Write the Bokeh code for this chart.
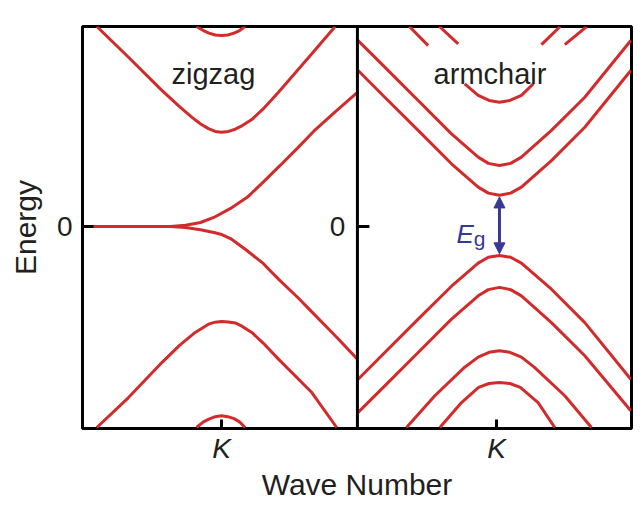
import numpy as np
from bokeh.plotting import figure
from bokeh.models import Label, Span, Arrow, NormalHead, FixedTicker, Range1d
from bokeh.embed import file_html
from bokeh.resources import INLINE

# ---------------- data (k relative to K, energy in arbitrary units) -------------
# zigzag ribbon
zz_c2_k = [-0.18, -0.13, -0.09, -0.045, 0.0, 0.045, 0.09, 0.13, 0.17]
zz_c2_e = [0.995, 0.975, 0.962, 0.953, 0.950, 0.953, 0.962, 0.975, 0.995]
zz_c1_k = [-0.897, -0.669, -0.429, -0.30, -0.214, -0.15, -0.094, -0.045, 0.0,
           0.05, 0.099, 0.15, 0.218, 0.30, 0.410, 0.650, 0.818]
zz_c1_e = [0.995, 0.842, 0.677, 0.595, 0.544, 0.510, 0.487, 0.473, 0.469,
           0.473, 0.484, 0.502, 0.532, 0.585, 0.668, 0.859, 0.995]
zz_edge_up_k = [-1.0, -0.367, -0.259, -0.151, -0.055, 0.065, 0.185, 0.302,
                0.424, 0.547, 0.664, 0.820, 0.978]
zz_edge_up_e = [0.0, 0.0, 0.006, 0.020, 0.045, 0.090, 0.145, 0.222,
                0.305, 0.390, 0.474, 0.572, 0.667]
zz_edge_dn_k = [-0.367, -0.259, -0.151, -0.055, 0.002, 0.065, 0.171, 0.302,
                0.41, 0.547, 0.65, 0.820, 0.978]
zz_edge_dn_e = [0.0, -0.005, -0.016, -0.030, -0.040, -0.060, -0.113, -0.185,
                -0.262, -0.352, -0.425, -0.545, -0.660]
zz_v1_k = [-0.897, -0.669, -0.429, -0.30, -0.189, -0.094, -0.045, 0.0, 0.05,
           0.099, 0.15, 0.218, 0.30, 0.410, 0.650, 0.829]
zz_v1_e = [-1.0, -0.851, -0.677, -0.590, -0.527, -0.486, -0.476, -0.473, -0.475,
           -0.480, -0.497, -0.527, -0.580, -0.660, -0.826, -1.0]
zz_v2_k = [-0.18, -0.13, -0.09, -0.045, 0.0, 0.045, 0.09, 0.13, 0.17]
zz_v2_e = [-1.0, -0.972, -0.958, -0.946, -0.942, -0.946, -0.956, -0.972, -1.0]

# armchair ribbon
arm_k = [-1.017, -0.825, -0.585, -0.345, -0.153, -0.08, 0.0, 0.08, 0.158,
         0.374, 0.614, 0.945]
arm_c1_e = [0.776, 0.643, 0.478, 0.312, 0.196, 0.166, 0.155, 0.166, 0.196,
            0.328, 0.494, 0.776]
arm_c2_e = [0.925, 0.793, 0.627, 0.461, 0.345, 0.314, 0.303, 0.314, 0.345,
            0.478, 0.643, 0.925]
arm_c3_arc_k = [-0.25, -0.153, -0.075, 0.0, 0.075, 0.158, 0.244]
arm_c3_arc_e = [0.710, 0.652, 0.627, 0.618, 0.627, 0.652, 0.710]
arm_c3_l_k = [-0.648, -0.513]
arm_c3_l_e = [0.995, 0.900]
arm_c3_r_k = [0.470, 0.628]
arm_c3_r_e = [0.905, 0.995]
arm_c4_l_k = [-0.432, -0.297]
arm_c4_l_e = [0.995, 0.909]
arm_c4_r_k = [0.302, 0.437]
arm_c4_r_e = [0.905, 0.995]
arm_v1_e = [-0.760, -0.627, -0.461, -0.297, -0.182, -0.153, -0.144, -0.153,
            -0.182, -0.312, -0.478, -0.760]
arm_v2_e = [-0.925, -0.793, -0.627, -0.461, -0.345, -0.314, -0.303, -0.314,
            -0.345, -0.478, -0.643, -0.917]
arm_v3_k = [-0.669, -0.465, -0.25, -0.153, -0.075, 0.0, 0.075, 0.158, 0.25,
            0.470, 0.662]
arm_v3_e = [-1.0, -0.842, -0.700, -0.650, -0.626, -0.618, -0.626, -0.650,
            -0.700, -0.842, -1.0]
arm_v4_k = [-0.429, -0.273, -0.15, -0.075, 0.0, 0.075, 0.15, 0.278, 0.398]
arm_v4_e = [-1.0, -0.876, -0.800, -0.781, -0.776, -0.781, -0.800, -0.876, -1.0]

tick_labels = ["K", "K"]
zero_label = "0"

# ---------------- layout / style ----------------
LEFT_K = 0.0
RIGHT_K = 2.0
RIGHT_K_TICK = 1.98
DIVIDER = 0.978
RED = "#d22b2b"
BLUE = "#363a96"
TXT = "#231f20"
FONT = "Liberation Sans"
LW = 3

p = figure(width=634, height=508,
           x_range=Range1d(-1.0, 2.95), y_range=Range1d(-1.005, 0.995),
           output_backend="svg", toolbar_location=None,
           min_border_left=82, min_border_right=3,
           min_border_top=26, min_border_bottom=80)
p.grid.visible = False
p.outline_line_color = "black"
p.outline_line_width = 3
p.background_fill_color = "white"
p.border_fill_color = "white"

# y axis
p.yaxis.ticker = FixedTicker(ticks=[0])
p.yaxis.minor_tick_line_color = None
p.yaxis.major_tick_in = 11
p.yaxis.major_tick_out = 0
p.yaxis.major_tick_line_width = 3
p.yaxis.major_tick_line_color = "black"
p.yaxis.axis_line_color = None
p.yaxis.major_label_standoff = 10
p.yaxis.major_label_text_font_size = "28px"
p.yaxis.major_label_text_font = FONT
p.yaxis.major_label_text_color = TXT
p.yaxis.axis_label = "Energy"
p.yaxis.axis_label_text_font = FONT
p.yaxis.axis_label_text_font_size = "30px"
p.yaxis.axis_label_text_font_style = "normal"
p.yaxis.axis_label_text_color = TXT
p.yaxis.axis_label_standoff = 12

# x axis
p.xaxis.ticker = FixedTicker(ticks=[LEFT_K, RIGHT_K_TICK])
p.xaxis.major_label_overrides = {LEFT_K: tick_labels[0], RIGHT_K_TICK: tick_labels[1]}
p.xaxis.minor_tick_line_color = None
p.xaxis.major_tick_in = 9
p.xaxis.major_tick_out = 0
p.xaxis.major_tick_line_width = 3
p.xaxis.major_tick_line_color = "black"
p.xaxis.axis_line_color = None
p.xaxis.major_label_standoff = 4
p.xaxis.major_label_text_font_size = "28px"
p.xaxis.major_label_text_font = FONT
p.xaxis.major_label_text_font_style = "italic"
p.xaxis.major_label_text_color = TXT
p.xaxis.axis_label = "Wave Number"
p.xaxis.axis_label_text_font = FONT
p.xaxis.axis_label_text_font_size = "30px"
p.xaxis.axis_label_text_font_style = "normal"
p.xaxis.axis_label_text_color = TXT
p.xaxis.axis_label_standoff = 1

# panel divider
p.add_layout(Span(location=DIVIDER, dimension="height", line_color="black", line_width=3))

# zigzag curves
for ks, es in [(zz_c2_k, zz_c2_e), (zz_c1_k, zz_c1_e), (zz_edge_up_k, zz_edge_up_e),
               (zz_edge_dn_k, zz_edge_dn_e), (zz_v1_k, zz_v1_e), (zz_v2_k, zz_v2_e)]:
    p.line(np.array(ks) + LEFT_K, es, line_color=RED, line_width=LW)

# armchair curves
arm_sets = [(arm_k, arm_c1_e), (arm_k, arm_c2_e), (arm_c3_arc_k, arm_c3_arc_e),
            (arm_c3_l_k, arm_c3_l_e), (arm_c3_r_k, arm_c3_r_e),
            (arm_c4_l_k, arm_c4_l_e), (arm_c4_r_k, arm_c4_r_e),
            (arm_k, arm_v1_e), (arm_k, arm_v2_e), (arm_v3_k, arm_v3_e),
            (arm_v4_k, arm_v4_e)]
for ks, es in arm_sets:
    p.line(np.array(ks) + RIGHT_K, es, line_color=RED, line_width=LW)

# right panel zero tick and label
p.ray(x=[DIVIDER], y=[0], length=12, angle=0, length_units="screen",
      line_color="black", line_width=3)
p.add_layout(Label(x=DIVIDER, y=0, x_offset=-12, text=zero_label, text_align="right",
                   text_baseline="middle", text_font=FONT, text_font_size="28px",
                   text_color=TXT))

# panel titles
p.add_layout(Label(x=-0.058, y=0.761, text="zigzag", text_align="center",
                   text_baseline="alphabetic", text_font=FONT, text_font_size="29px",
                   text_color=TXT))
p.add_layout(Label(x=1.932, y=0.761, text="armchair", text_align="center",
                   text_baseline="alphabetic", text_font=FONT, text_font_size="29px",
                   text_color=TXT))

# band gap arrow
gap_top = min(arm_c1_e) - 0.008
gap_bot = max(arm_v1_e) + 0.008
p.add_layout(Arrow(x_start=RIGHT_K, y_start=gap_bot, x_end=RIGHT_K, y_end=gap_top,
                   line_color=BLUE, line_width=3,
                   start=NormalHead(size=11, fill_color=BLUE, line_color=BLUE, line_width=1),
                   end=NormalHead(size=11, fill_color=BLUE, line_color=BLUE, line_width=1)))
p.add_layout(Label(x=1.690, y=-0.036, text="E", text_align="left",
                   text_baseline="alphabetic", text_font=FONT, text_font_size="26px",
                   text_font_style="italic", text_color=BLUE))
p.add_layout(Label(x=1.815, y=-0.061, text="g", text_align="left",
                   text_baseline="alphabetic", text_font=FONT, text_font_size="21px",
                   text_color=BLUE))

open("out.html", "w").write(file_html(p, INLINE))
